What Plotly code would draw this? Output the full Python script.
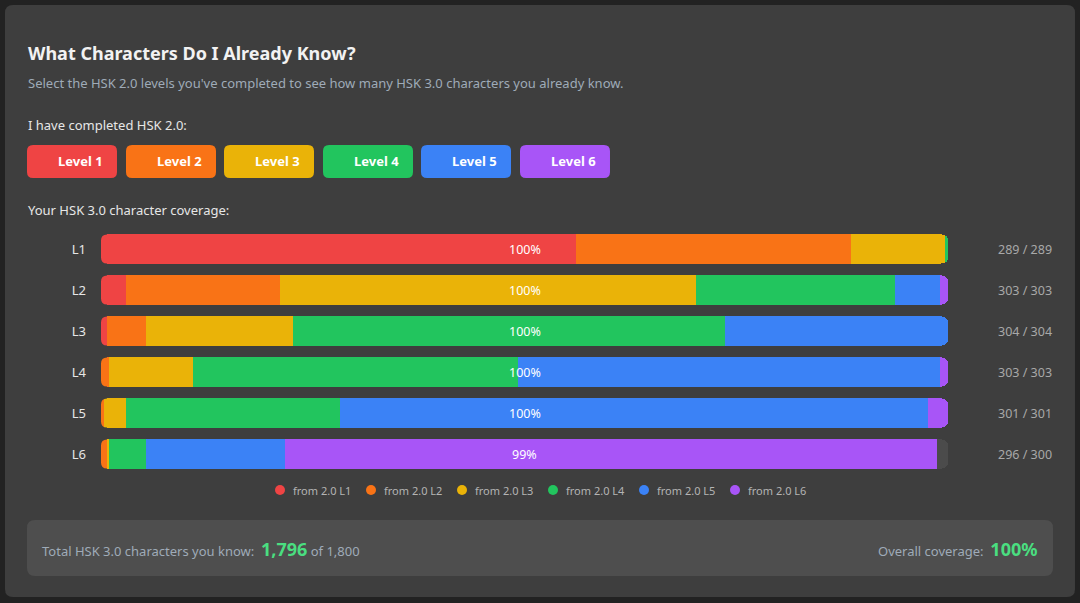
"""HSK 2.0 -> HSK 3.0 character coverage, stacked horizontal bars."""

import plotly.graph_objects as go

W, H = 1080, 603

levels = ["L1", "L2", "L3", "L4", "L5", "L6"]
totals = [289, 303, 304, 303, 301, 300]
from_l1 = [162, 9, 2, 0, 0, 0]
from_l2 = [94, 55, 14, 3, 1, 2]
from_l3 = [32, 149, 53, 30, 8, 1]
from_l4 = [1, 71, 155, 116, 76, 13]
from_l5 = [0, 16, 80, 151, 209, 49]
from_l6 = [0, 3, 0, 3, 7, 231]

series_names = ["from 2.0 L1", "from 2.0 L2", "from 2.0 L3",
                "from 2.0 L4", "from 2.0 L5", "from 2.0 L6"]
button_labels = ["Level 1", "Level 2", "Level 3", "Level 4", "Level 5", "Level 6"]
colors = ["#ef4444", "#f97316", "#eab308", "#22c55e", "#3b82f6", "#a855f7"]

series = [from_l1, from_l2, from_l3, from_l4, from_l5, from_l6]
known = [sum(v) for v in zip(*series)]
missing = [t - k for t, k in zip(totals, known)]

BG = "#222222"
CARD = "#3e3e3e"
BOX = "#4e4e4e"
TRACK = "#4b4b4b"
MUTED = "#9fabb8"
FONT = "Noto Sans"


def px(x):
    return x / W


def py(y):
    return 1 - y / H


def rounded_rect(x0, y0, x1, y1, r):
    # pixel box (y from top) -> paper-coordinate svg path
    pts = [
        ("M", [(x0 + r, y0)]),
        ("L", [(x1 - r, y0)]),
        ("Q", [(x1, y0), (x1, y0 + r)]),
        ("L", [(x1, y1 - r)]),
        ("Q", [(x1, y1), (x1 - r, y1)]),
        ("L", [(x0 + r, y1)]),
        ("Q", [(x0, y1), (x0, y1 - r)]),
        ("L", [(x0, y0 + r)]),
        ("Q", [(x0, y0), (x0 + r, y0)]),
    ]
    out = ""
    for cmd, coords in pts:
        out += cmd + " " + " ".join(f"{px(a):.5f},{py(b):.5f}" for a, b in coords) + " "
    return out + "Z"


def pct(vals, tot):
    return [v / t * 100 for v, t in zip(vals, tot)]


fig = go.Figure()

for name, vals, color in zip(series_names, series, colors):
    fig.add_trace(go.Bar(
        y=levels,
        x=pct(vals, totals),
        orientation="h",
        marker=dict(color=color, line_width=0),
        name=name,
        showlegend=False,
        hoverinfo="skip",
    ))

# unfilled remainder of the track
fig.add_trace(go.Bar(
    y=levels,
    x=pct(missing, totals),
    orientation="h",
    marker=dict(color=TRACK, line_width=0),
    showlegend=False,
    hoverinfo="skip",
))

shapes = [
    dict(type="path", xref="paper", yref="paper", layer="below",
         path=rounded_rect(5, 5, 1075, 597, 8), fillcolor=CARD, line_width=0),
    dict(type="path", xref="paper", yref="paper", layer="below",
         path=rounded_rect(27, 520, 1053, 576, 8), fillcolor=BOX, line_width=0),
]

annotations = [
    dict(x=px(26), y=py(53), text="<b>What Characters Do I Already Know?</b>",
         font=dict(size=18, color="#f2f2f2")),
    dict(x=px(26), y=py(83),
         text="Select the HSK 2.0 levels you've completed to see how many HSK 3.0 characters you already know.",
         font=dict(size=13, color=MUTED)),
    dict(x=px(26), y=py(125), text="I have completed HSK 2.0:",
         font=dict(size=13, color="#e6e6e6")),
    dict(x=px(26), y=py(210), text="Your HSK 3.0 character coverage:",
         font=dict(size=13, color="#e6e6e6")),
]
for a in annotations:
    a.update(xref="paper", yref="paper", xanchor="left", yanchor="middle", showarrow=False)

# level toggle buttons
bx = [27, 126, 224, 323, 421, 520]
for x0, label, color in zip(bx, button_labels, colors):
    shapes.append(dict(type="path", xref="paper", yref="paper", layer="below",
                       path=rounded_rect(x0, 145, x0 + 90, 178, 6),
                       fillcolor=color, line_width=0))
    annotations.append(dict(xref="paper", yref="paper", x=px(x0 + 53), y=py(161.5),
                            xanchor="center", yanchor="middle",
                            text=f"<b>{label}</b>", showarrow=False,
                            font=dict(size=13, color="#ffffff")))

# round the left ends of each bar (masks in the card colour)
h, r = 14.5, 6
mask = (f"M -2,{h + 2} L {r},{h + 2} L {r},{h} Q 0,{h} 0,{h - r} L -2,{h - r} Z "
        f"M -2,{-h - 2} L {r},{-h - 2} L {r},{-h} Q 0,{-h} 0,{-h + r} L -2,{-h + r} Z")
for lvl in levels:
    shapes.append(dict(type="path", xref="x", yref="y", xsizemode="pixel",
                       ysizemode="pixel", xanchor=0, yanchor=lvl, path=mask,
                       fillcolor=CARD, line_width=0))

# per-row percentage and counts
for lvl, k, t in zip(levels, known, totals):
    annotations.append(dict(xref="x", yref="y", x=50, y=lvl,
                            xanchor="center", yanchor="middle",
                            text=f"{round(k / t * 100)}%", showarrow=False,
                            font=dict(size=12.5, color="#ffffff")))
    annotations.append(dict(xref="paper", yref="y", x=px(1025), y=lvl,
                            xanchor="center", yanchor="middle",
                            text=f"{k} / {t}", showarrow=False,
                            font=dict(size=12.5, color="#a8a8a8")))

# legend row: dot + label, centred under the bars
for i, (name, color) in enumerate(zip(series_names, colors)):
    cx = 280 + i * 91
    shapes.append(dict(type="circle", xref="paper", yref="paper",
                       xsizemode="pixel", ysizemode="pixel",
                       xanchor=px(cx), yanchor=py(490),
                       x0=-5, x1=5, y0=-5, y1=5,
                       fillcolor=color, line_width=0))
    annotations.append(dict(
        xref="paper", yref="paper", x=px(cx + 11), y=py(490),
        xanchor="left", yanchor="middle", showarrow=False,
        text=name, font=dict(size=11, color="#b4b4b4"),
    ))

total_known = sum(known)
total_all = sum(totals)
overall = round(total_known / total_all * 100)
annotations.append(dict(
    xref="paper", yref="paper", x=px(40), y=py(549), xanchor="left", yanchor="middle",
    showarrow=False,
    text=(f"Total HSK 3.0 characters you know:  "
          f"<span style='font-size:18px;color:#4ade80'><b>{total_known:,}</b></span>"
          f" of {total_all:,}"),
    font=dict(size=13, color=MUTED),
))
annotations.append(dict(
    xref="paper", yref="paper", x=px(1039), y=py(549), xanchor="right", yanchor="middle",
    showarrow=False,
    text=(f"Overall coverage:  "
          f"<span style='font-size:18px;color:#4ade80'><b>{overall}%</b></span>"),
    font=dict(size=13, color=MUTED),
))

fig.update_layout(
    width=W,
    height=H,
    margin=dict(l=0, r=0, t=0, b=0),
    paper_bgcolor=BG,
    plot_bgcolor="rgba(0,0,0,0)",
    font=dict(family=FONT, color="#e6e6e6"),
    barmode="stack",
    bargap=0.29,
    barcornerradius=6,
    showlegend=False,
    xaxis=dict(domain=[px(101), px(948)], range=[0, 100], visible=False, fixedrange=True),
    yaxis=dict(domain=[py(474.5), py(228.5)], autorange="reversed",
               showgrid=False, zeroline=False, showline=False, ticks="",
               ticklabelstandoff=14, fixedrange=True,
               tickfont=dict(size=13, color="#e6e6e6")),
    shapes=shapes,
    annotations=annotations,
)

fig.write_html(
    "out.html",
    config={"displayModeBar": False},
    post_script="document.body.style.margin='0';document.body.style.background='#222222';",
)
